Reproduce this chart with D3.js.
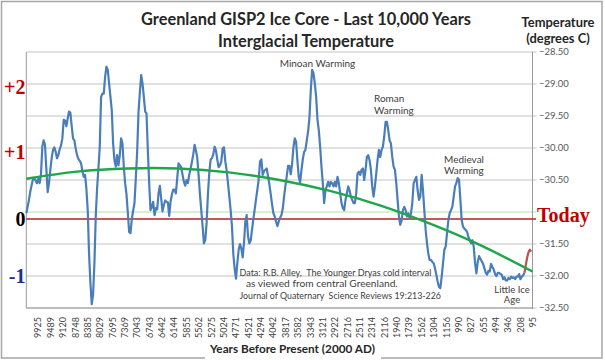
<!DOCTYPE html>
<html><head><meta charset="utf-8">
<script src="https://cdn.jsdelivr.net/npm/d3@7"></script>
<style>html,body{margin:0;padding:0;background:#fff;}svg{display:block;}</style>
</head><body>
<svg id="c" width="605" height="360"></svg>
<script>
// ---- data ----
const yearLabels = [9925,9489,9120,8748,8385,8029,7695,7369,7043,6743,6442,6144,5855,5562,5275,5024,4771,4521,4294,4042,3817,3582,3343,3121,2922,2716,2511,2314,2116,1940,1739,1562,1304,1156,990,827,655,494,346,208,95];

const gisp2 = [
-31.02,-30.92,-30.81,-30.68,-30.58,-30.49,-30.47,-30.51,-30.55,-30.47,
-30.55,-30.41,-29.98,-29.88,-29.95,-30.33,-30.69,-30.55,-30.34,-30.16,
-30.03,-29.99,-30.06,-30.16,-30.11,-30.02,-29.96,-29.85,-29.56,-29.57,
-29.66,-29.54,-29.43,-29.45,-29.66,-29.85,-29.88,-30.01,-30.11,-30.17,
-30.20,-30.24,-30.36,-30.45,-30.42,-30.64,-30.97,-31.66,-32.11,-32.44,
-32.29,-31.80,-31.07,-30.63,-30.32,-29.98,-29.20,-29.15,-29.15,-28.89,
-28.73,-28.78,-28.99,-29.20,-29.41,-29.93,-30.19,-30.29,-30.11,-30.27,
-30.11,-29.85,-29.93,-30.29,
-30.55,-30.72,-31.01,-31.31,-31.33,-31.11,-30.98,-30.86,-30.47,-30.06,
-29.44,-29.14,-28.86,-28.99,-29.20,-29.43,-29.46,-30.03,-30.55,-30.97,
-30.92,-30.84,-31.05,-30.94,-30.96,-30.71,-30.59,-30.79,-30.99,-30.89,
-30.82,-30.84,-30.85,-31.06,-30.84,-30.73,-30.65,-30.65,-30.71,-30.47,
-30.24,-30.27,-30.30,-30.42,-30.53,-30.59,-30.50,-30.55,-30.42,-30.32,
-30.22,-30.10,-29.95,-30.04,-30.15,-30.42,-30.72,-30.97,-31.22,-31.49,
-31.44,-31.17,-30.72,-30.39,-30.18,-30.16,-30.10,-29.98,-30.04,-30.18,
-30.30,-30.27,-30.21,-30.01,-29.99,-30.21,-30.35,
-30.55,-30.76,-30.97,-31.23,-31.66,-31.89,-32.04,-31.80,-31.59,-31.50,
-31.57,-31.71,-31.48,-31.15,-31.05,-31.38,-31.49,-31.45,-31.28,-31.11,
-30.96,-30.80,-30.65,-30.49,-30.21,-30.18,-30.42,-30.36,-30.34,-30.32,
-30.44,-30.57,-30.72,-30.88,-31.02,-31.07,-31.15,-31.22,-31.15,-31.09,
-31.05,-30.95,-30.76,-30.59,-30.44,-30.28,-30.28,-30.41,-30.25,-29.99,
-29.85,-29.90,-30.20,-30.45,-30.54,-30.35,-30.18,-30.06,-30.03,-29.88,
-29.74,-29.52,-29.10,-28.78,-28.83,-28.99,-29.20,-29.56,-29.72,-29.98,
-30.29,-30.55,-30.86,-30.66,-30.60,-30.53,-30.60,
-30.53,-30.55,-30.60,-30.53,-30.60,-30.45,-30.55,-30.71,-30.86,-30.94,
-30.97,-30.81,-30.71,-30.60,-30.66,-30.76,-30.81,-30.86,-30.86,-30.71,
-30.40,-30.37,-30.42,-30.34,-30.32,-30.50,-30.34,-30.14,-30.11,-30.19,
-30.34,-30.60,-30.76,-30.60,-30.40,-30.19,-30.03,-30.14,-30.03,-29.98,
-29.82,-29.59,-29.59,-29.72,-29.88,-29.93,-30.14,-30.29,-30.34,-30.55,
-30.81,-31.07,-31.20,-31.13,-30.97,-30.92,-30.97,-31.07,-31.02,-31.10,
-31.02,-30.86,-30.55,-30.50,-30.45,-30.66,-30.81,-30.76,-30.42,-30.66,
-30.97,-31.28,-31.49,-31.65,-31.75,-31.75,-31.78,
-31.80,-31.88,-31.98,-32.09,-32.17,-32.19,-32.01,-31.80,-31.59,-31.54,
-31.33,-31.13,-31.02,-30.97,-30.92,-30.76,-30.60,-30.55,-30.47,-30.50,
-30.81,-31.13,-31.23,-31.26,-31.28,-31.31,-31.39,-31.44,-31.49,-31.44,
-31.54,-31.80,-31.96,-31.78,-31.69,-31.73,-31.77,-31.81,-31.88,-31.95,
-31.98,-31.92,-31.93,-31.81,-31.86,-31.90,-31.97,-32.00,-31.95,-31.95,
-31.97,-31.98,-32.05,-32.02,-32.07,-32.07,-32.03,-32.05,-32.01,-32.03,
-32.02,-32.05,-32.01,-32.01,-31.97,-32.05,-32.01,-31.99,-31.95
];
const modern = [-31.95,-31.83,-31.71,-31.63,-31.59,-31.62];
const trend = [-30.48,-30.37,-30.32,-30.32,-30.38,-30.50,-30.67,-30.90,-31.19,-31.53,-31.93];
const tempTicks = [-28.5,-29.0,-29.5,-30.0,-30.5,-31.0,-31.5,-32.0,-32.5];
const todayLevel = -31.11;
const anomalyText = ["+2","+1","0","-1"];
const anomalyAt = [-29.05,-30.07,-31.12,-32.0];
const anomalyColor = ["#c00000","#c00000","#000000","#1f2f8f"];

// ---- layout ----
const svg = d3.select("#c");
const L = 26.3, R = 532.5, T = 52, B = 308;
const nSamples = gisp2.length + modern.length - 1; // 379 intervals
const x = d3.scaleLinear().domain([0, nSamples]).range([L, R]);
const y = d3.scaleLinear().domain([-32.5, -28.5]).range([B, T]);
const xl = d3.scalePoint().domain(yearLabels).range([38.3, 533]);
const sans = "Lato, 'Open Sans', sans-serif";
const serif = "'Liberation Serif', 'DejaVu Serif', serif";

function fit(sel, w){ const n = sel.node(); const fs = parseFloat(sel.attr("font-size")); const len = n.getComputedTextLength(); if(len>0) sel.attr("font-size", (fs*w/len).toFixed(2)); return sel; }

// chart border
svg.append("rect").attr("x",1.5).attr("y",1.5).attr("width",600.5).attr("height",356.5)
  .attr("fill","none").attr("stroke","#a6a6a6").attr("stroke-width",1.5);

// gridlines + right ticks
const g = svg.append("g");
g.selectAll("line.grid").data(tempTicks).join("line").attr("class","grid")
  .attr("x1",L).attr("x2",R+4).attr("y1",d=>y(d)).attr("y2",d=>y(d))
  .attr("stroke",d=> d===-31.0 ? "#b5dcb0" : "#c4c4c4").attr("stroke-width",1);
// axes lines
g.append("line").attr("x1",L).attr("x2",L).attr("y1",T).attr("y2",B).attr("stroke","#9a9a9a");
g.append("line").attr("x1",R).attr("x2",R).attr("y1",T).attr("y2",B+1).attr("stroke","#9a9a9a");
g.append("line").attr("x1",L).attr("x2",R).attr("y1",B).attr("y2",B).attr("stroke","#9a9a9a");

// right tick labels (the -31.00 label is replaced by "Today")
g.selectAll("text.rt").data(tempTicks.filter(d=>d!==-31.0)).join("text").attr("class","rt")
  .attr("x",539).attr("y",d=>y(d)).attr("dy","0.35em")
  .attr("font-family",sans).attr("font-size",9.5).attr("fill","#595959")
  .text(d=>d3.format(".2f")(d));

// bottom category labels
g.selectAll("text.xt").data(yearLabels).join("text").attr("class","xt")
  .attr("transform",d=>`translate(${xl(d)},${B+9}) rotate(-90)`)
  .attr("dy","0.35em").attr("text-anchor","end")
  .attr("font-family",sans).attr("font-size",9).attr("fill","#404040")
  .text(d=>d);

// zero ("Today") line
g.append("line").attr("x1",L).attr("x2",536).attr("y1",y(todayLevel)).attr("y2",y(todayLevel))
  .attr("stroke","#b22222").attr("stroke-width",1.6);
g.append("text").attr("x",537).attr("y",y(todayLevel)+2.5)
  .attr("font-family",serif).attr("font-weight","bold").attr("font-size",20).attr("fill","#c00000").text("Today");

// anomaly labels on left
g.selectAll("text.an").data(anomalyText).join("text").attr("class","an")
  .attr("x",25.5).attr("y",(d,i)=>y(anomalyAt[i])).attr("dy","0.34em").attr("text-anchor","end")
  .attr("font-family",serif).attr("font-weight","bold").attr("font-size",20)
  .attr("fill",(d,i)=>anomalyColor[i]).text(d=>d);

// series
const line = d3.line().x((d,i)=>x(i)).y(d=>y(d));
g.append("path").datum(gisp2).attr("d",line).attr("fill","none")
  .attr("stroke","#4a7ebb").attr("stroke-width",2.2).attr("stroke-linejoin","round");
const off = gisp2.length - 1;
g.append("path").datum(modern).attr("d",d3.line().x((d,i)=>x(off+i)).y(d=>y(d))).attr("fill","none")
  .attr("stroke","#c0504d").attr("stroke-width",2.2).attr("stroke-linejoin","round");
const tStep = nSamples/(trend.length-1);
g.append("path").datum(trend).attr("d",d3.line().curve(d3.curveNatural).x((d,i)=>x(i*tStep)).y(d=>y(d)))
  .attr("fill","none").attr("stroke","#1fa64a").attr("stroke-width",2.4);

// titles
const t1 = svg.append("text").attr("x",306).attr("y",24.5).attr("text-anchor","middle")
  .attr("font-family",sans).attr("font-weight","bold").attr("font-size",16).attr("fill","#262626")
  .text("Greenland GISP2 Ice Core - Last 10,000 Years");
fit(t1,330);
svg.append("text").attr("x",306).attr("y",46.5).attr("text-anchor","middle")
  .attr("font-family",sans).attr("font-weight","bold").attr("font-size",t1.attr("font-size")).attr("fill","#262626")
  .text("Interglacial Temperature");
const r1 = svg.append("text").attr("x",558).attr("y",27).attr("text-anchor","middle")
  .attr("font-family",sans).attr("font-weight","bold").attr("font-size",12).attr("fill","#262626").text("Temperature");
fit(r1,73);
svg.append("text").attr("x",558).attr("y",43).attr("text-anchor","middle")
  .attr("font-family",sans).attr("font-weight","bold").attr("font-size",r1.attr("font-size")).attr("fill","#262626").text("(degrees C)");

// x axis title with white backing over the border
svg.append("rect").attr("x",205).attr("y",340).attr("width",176).attr("height",20).attr("fill","#fff");
const xt = svg.append("text").attr("x",292.5).attr("y",353).attr("text-anchor","middle")
  .attr("font-family",sans).attr("font-weight","bold").attr("font-size",12).attr("fill","#262626")
  .text("Years Before Present (2000 AD)");
fit(xt,165);

// annotations
function note(txt, xx, yy, anchor, size){ return svg.append("text").attr("x",xx).attr("y",yy).attr("text-anchor",anchor||"start")
  .attr("font-family",sans).attr("font-size",size||10).attr("fill","#404040").text(txt); }
note("Minoan Warming",317.5,67,"middle");
note("Roman",374,101.5); note("Warming",374,113.5);
note("Medieval",444,163); note("Warming",444,174);
note("Little Ice",512,292.5,"middle",9.5); note("Age",512,303,"middle",9.5);
fit(note("Data: R.B. Alley,  The Younger Dryas cold interval",239.5,275.5,"start",9.5).attr("xml:space","preserve").style("white-space","pre"),192);
fit(note("as viewed from central Greenland.",246,287,"start",9.5),152);
fit(note("Journal of Quaternary  Science Reviews 19:213-226",239.5,298.5,"start",9.5).style("white-space","pre"),201.5);
</script>
</body></html>
